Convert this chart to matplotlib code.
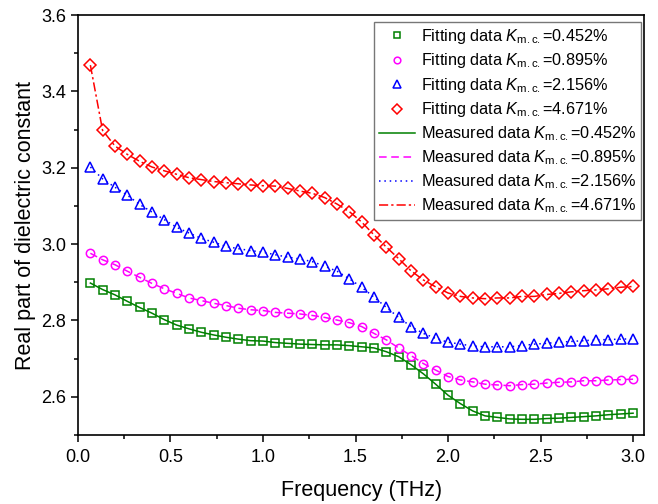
import numpy as np
import matplotlib.pyplot as plt
from matplotlib.ticker import MultipleLocator

plt.rcParams['font.family'] = ['Liberation Sans', 'DejaVu Sans']
plt.rcParams['mathtext.fontset'] = 'custom'
plt.rcParams['mathtext.rm'] = 'Liberation Sans'
plt.rcParams['mathtext.it'] = 'Liberation Sans:italic'


# frequency points (THz)
freq = [0.067, 0.133, 0.2, 0.267, 0.333, 0.4, 0.467, 0.533, 0.6, 0.667,
        0.733, 0.8, 0.867, 0.933, 1.0, 1.067, 1.133, 1.2, 1.267, 1.333,
        1.4, 1.467, 1.533, 1.6, 1.667, 1.733, 1.8, 1.867, 1.933, 2.0,
        2.067, 2.133, 2.2, 2.267, 2.333, 2.4, 2.467, 2.533, 2.6, 2.667,
        2.733, 2.8, 2.867, 2.933, 3.0]

k_0452 = [2.898, 2.881, 2.867, 2.850, 2.834, 2.819, 2.802, 2.788, 2.778, 2.769,
          2.762, 2.756, 2.751, 2.747, 2.746, 2.742, 2.740, 2.738, 2.737, 2.736,
          2.736, 2.734, 2.731, 2.728, 2.718, 2.705, 2.684, 2.660, 2.633, 2.604,
          2.582, 2.563, 2.550, 2.546, 2.542, 2.541, 2.541, 2.543, 2.544, 2.546,
          2.548, 2.550, 2.553, 2.555, 2.557]

k_0895 = [2.976, 2.959, 2.946, 2.929, 2.913, 2.897, 2.883, 2.871, 2.859, 2.852,
          2.845, 2.839, 2.832, 2.828, 2.826, 2.821, 2.819, 2.817, 2.813, 2.808,
          2.801, 2.794, 2.784, 2.766, 2.749, 2.728, 2.708, 2.687, 2.670, 2.653,
          2.644, 2.639, 2.633, 2.631, 2.629, 2.632, 2.633, 2.636, 2.638, 2.639,
          2.642, 2.642, 2.644, 2.645, 2.646]

k_2156 = [3.202, 3.171, 3.149, 3.128, 3.104, 3.084, 3.064, 3.044, 3.029, 3.015,
          3.005, 2.994, 2.988, 2.983, 2.979, 2.972, 2.966, 2.961, 2.954, 2.942,
          2.929, 2.909, 2.887, 2.861, 2.834, 2.808, 2.784, 2.766, 2.753, 2.743,
          2.738, 2.733, 2.731, 2.731, 2.731, 2.734, 2.738, 2.740, 2.743, 2.745,
          2.747, 2.749, 2.750, 2.751, 2.752]

k_4671 = [3.469, 3.298, 3.257, 3.235, 3.217, 3.202, 3.192, 3.183, 3.174, 3.169,
          3.164, 3.161, 3.158, 3.155, 3.153, 3.152, 3.146, 3.139, 3.133, 3.122,
          3.105, 3.085, 3.058, 3.024, 2.992, 2.962, 2.930, 2.906, 2.888, 2.872,
          2.863, 2.859, 2.857, 2.859, 2.859, 2.863, 2.863, 2.868, 2.871, 2.875,
          2.878, 2.880, 2.883, 2.887, 2.889]

labels = ['0.452', '0.895', '2.156', '4.671']
series = [k_0452, k_0895, k_2156, k_4671]
colors = ['#008000', '#ff00ff', '#0000ff', '#ff0000']
markers = ['s', 'o', '^', 'D']
msizes = [5.5, 6, 6.5, 6]
lstyles = ['-', (0, (5, 3)), (0, (1, 2.5)), (0, (6, 2, 1.5, 2))]

K = r'$K_{\mathrm{m{.}c{.}}}$'

fig = plt.figure(figsize=(6.58, 5.04), dpi=100)
ax = fig.add_axes([0.1185, 0.137, 0.8605, 0.833])

for s, c, m, ms, lab in zip(series, colors, markers, msizes, labels):
    ax.plot(freq, s, linestyle='none', marker=m, ms=ms, mfc='none',
            mec=c, mew=1.1, label='Fitting data ' + K + '=' + lab + '%')

for s, c, ls, lab in zip(series, colors, lstyles, labels):
    ax.plot(freq, s, color=c, ls=ls, lw=1.1,
            label='Measured data ' + K + '=' + lab + '%')

ax.set_xlim(0, 3.06)
ax.set_ylim(2.5, 3.6)
ax.xaxis.set_major_locator(MultipleLocator(0.5))
ax.xaxis.set_minor_locator(MultipleLocator(0.25))
ax.yaxis.set_major_locator(MultipleLocator(0.2))
ax.yaxis.set_minor_locator(MultipleLocator(0.1))
ax.xaxis.set_major_formatter(plt.FormatStrFormatter('%.1f'))
ax.yaxis.set_major_formatter(plt.FormatStrFormatter('%.1f'))
ax.tick_params(which='both', direction='out', top=False, right=False,
               labelsize=13, width=1.1)
ax.tick_params(which='major', length=5)
ax.tick_params(axis='x', which='major', pad=5)
ax.tick_params(which='minor', length=3)
for sp in ax.spines.values():
    sp.set_linewidth(1.2)

ax.set_xlabel('Frequency (THz)', fontsize=15.5, labelpad=10)
ax.set_ylabel('Real part of dielectric constant', fontsize=15.5, labelpad=4)

leg = ax.legend(loc='upper right', bbox_to_anchor=(0.995, 0.983),
                fontsize=11.7, frameon=True, fancybox=False, borderaxespad=0,
                labelspacing=0.33, handlelength=2.2, handletextpad=0.37,
                borderpad=0.3, markerscale=0.8)
leg.get_frame().set_edgecolor('#555555')
leg.get_frame().set_linewidth(1.0)

fig.savefig('out.png', dpi=100)
